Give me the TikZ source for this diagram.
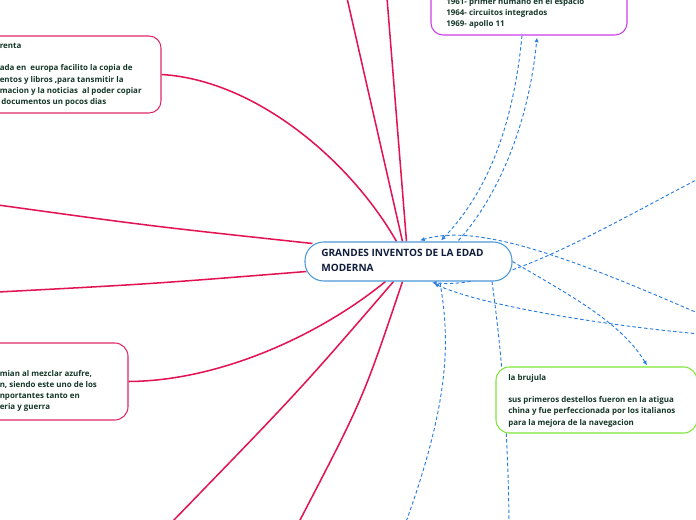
\documentclass[tikz,border=0pt]{standalone}
\usepackage{fontspec}
\setmainfont{Open Sans}
\usetikzlibrary{arrows.meta,fit,calc,backgrounds}
\definecolor{pinkline}{RGB}{226,20,84}
\definecolor{pinkbox}{RGB}{222,40,100}
\definecolor{ctrblue}{RGB}{75,152,215}
\definecolor{relblue}{RGB}{40,125,225}
\definecolor{purplebox}{RGB}{205,60,235}
\definecolor{greenbox}{RGB}{125,230,55}
\definecolor{txtcol}{RGB}{20,55,40}
\definecolor{ctrtxt}{RGB}{18,30,62}
\tikzset{
  box/.style={rectangle, inner sep=0pt, line width=0.8pt, fill=white},
  txt/.style={anchor=north west, align=left, inner sep=0pt, text=txtcol, font=\fontsize{5.95}{8.4}\selectfont\bfseries},
  ctrtext/.style={anchor=north west, align=left, inner sep=0pt, text=ctrtxt, font=\fontsize{7.55}{10.9}\selectfont\bfseries},
  mainline/.style={draw=pinkline, line width=1.15pt},
  rel/.style={draw=relblue, line width=0.7pt, dash pattern=on 2.6pt off 1.8pt},
  tip/.style={-{Latex[length=3.5pt,width=3.2pt]}},
}
\begin{document}
\begin{tikzpicture}[x=0.75pt,y=-0.75pt]
\useasboundingbox (0,0) rectangle (696,520);
\clip (0,0) rectangle (696,520);

% nodes
\node[box, draw=ctrblue, rounded corners=14pt, fit={(305,242) (512,281)}] (ctr) {};
\node[box, draw=pinkbox, rounded corners=9pt, fit={(-150,36) (161,113)}] (imp) {};
\node[box, draw=pinkbox, rounded corners=10pt, fit={(-150,343) (128,420)}] (pol) {};
\node[box, draw=purplebox, rounded corners=9pt, fit={(431,-40) (627,35)}] (esp) {};
\node[box, draw=greenbox, rounded corners=10pt, fit={(496,367) (697,433)}] (bru) {};

% texts
\node[ctrtext] (ctrt) at (321,249) {GRANDES INVENTOS DE LA EDAD\\MODERNA};
\node[txt] (impt) at (-0.5,43) {renta\\\mbox{}\\ada en\ \ europa facilito la copia de\\entos y libros ,para tansmitir la\\macion y la noticias\ \ al poder copiar\\\hspace{1.2pt}documentos un pocos dias};
\node[txt] (polt) at (-0.5,370) {mian al mezclar azufre,\\n, siendo este uno de los\\nportantes tanto en\\eria y guerra};
\node[txt] (espt) at (446,-2) {1961- primer humano en el espacio\\1964- circuitos integrados\\1969- apollo 11};
\node[txt] (brut) at (508,374) {la brujula\\\mbox{}\\sus primeros destellos fueron en la atigua\\china y fue perfeccionada por los italianos\\para la mejora de la navegacion};

% free ends
\coordinate (top1) at (347,-2);
\coordinate (top2) at (387,-2);
\coordinate (left1) at (-2,205);
\coordinate (left2) at (-2,292);
\coordinate (bot1) at (172,522);
\coordinate (bot2) at (299,522);
\coordinate (r1) at (700,178);
\coordinate (r2) at (700,314);
\coordinate (r3) at (700,334);
\coordinate (d1) at (509,522);
\coordinate (d2) at (406,522);

\begin{scope}[on background layer]
% main connectors
\draw[mainline] (top1) -- ($(ctr.north)+(-6,0)$);
\draw[mainline] (top2) -- ($(ctr.north)+(-2,0)$);
\draw[mainline] (imp.east) .. controls (255,80) and (350,160) .. ($(ctr.north)+(-12,0)$);
\draw[mainline] (left1) .. controls (150,226) .. ($(ctr.west)+(8,-18)$);
\draw[mainline] (left2) .. controls (150,284) .. ($(ctr.west)+(2,10)$);
\draw[mainline] (pol.east) .. controls (220,381) and (320,335) .. ($(ctr.south)+(-23,0)$);
\draw[mainline] ($(ctr.south)+(-15,0)$) .. controls (300,390) .. (bot1);
\draw[mainline] ($(ctr.south)+(-6,0)$) .. controls (363,399) .. (bot2);

% relationship connectors
\draw[rel,tip] ($(esp.south)+(-7,0)$) .. controls (512,140) and (480,200) .. ($(ctr.north)+(32.5,-1)$);
\draw[rel,tip] ($(ctr.north)+(50,-1)$) .. controls (495,200) and (528,130) .. ($(esp.south)+(8,2)$);
\draw[rel,tip] (r2) .. controls (580,262) and (480,222) .. ($(ctr.north)+(11.5,-1)$);
\draw[rel,tip] (r1) .. controls (600,230) and (500,290) .. ($(ctr.south)+(23.5,1)$);
\draw[rel,tip] (ctr.east) .. controls (560,290) and (620,320) .. ($(bru.north)+(50.5,-1)$);
\draw[rel,tip] (r3) .. controls (600,325) and (480,305) .. ($(ctr.south)+(25.5,2)$);
\draw[rel] ($(ctr.south)+(83.5,0)$) .. controls (500,340) and (508,420) .. (d1);
\draw[rel] ($(ctr.south)+(31.5,1)$) .. controls (450,340) and (450,400) .. (d2);
\end{scope}
\end{tikzpicture}
\end{document}
